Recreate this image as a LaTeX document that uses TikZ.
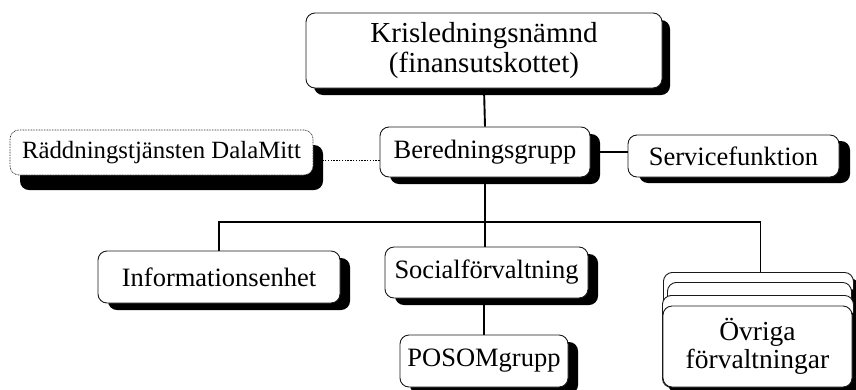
\documentclass[tikz,border=0pt]{standalone}
\usepackage{fontspec}
\setmainfont{Liberation Serif}
\usetikzlibrary{shadows,backgrounds}
\begin{document}
\begin{tikzpicture}[x=1pt,y=-1pt,
  box/.style={draw=black!90, line width=0.9pt, rounded corners=9pt, fill=white,
    align=center, inner sep=0pt, font=\fontsize{26.5}{28}\selectfont},
  sh/.style 2 args={drop shadow={shadow xshift=#1pt, shadow yshift=-#2pt, fill=black, opacity=1}},
  conn/.style={line width=1.9pt, black},
  dotconn/.style={line width=1.3pt, black, dash pattern=on 1.3pt off 1.5pt}
]
\useasboundingbox (0,0) rectangle (856,389);
\clip (0,0) rectangle (856,389);

\node[box, sh={8}{7}, minimum width=356pt, minimum height=75pt,
  font=\fontsize{29}{30}\selectfont] (top) at (484,50.5) {Krisledningsnämnd\\(finansutskottet)};
\node[box, sh={10}{7}, minimum width=210pt, minimum height=50pt] (bered) at (485,152) {Beredningsgrupp};
\node[box, sh={11}{6}, minimum width=211pt, minimum height=42pt] (serv) at (733.5,156) {Servicefunktion};
\node[box, sh={10}{15}, draw=black!85, line width=0.7pt, dash pattern=on 0.8pt off 0.8pt,
  minimum width=303pt, minimum height=45pt, font=\fontsize{24.8}{28}\selectfont] (radd) at (161.5,152.5) {Räddningstjänsten DalaMitt};
\node[box, sh={10}{7}, minimum width=242pt, minimum height=52pt] (info) at (219,277) {Informationsenhet};
\node[box, sh={10}{7}, minimum width=203pt, minimum height=51pt] (social) at (486.5,272.5) {Socialförvaltning};
\node[box, sh={10}{7}, minimum width=168pt, minimum height=52pt] (posom) at (484,361) {POSOMgrupp};

\node[box, sh={6}{6}, minimum width=190pt, minimum height=115pt, anchor=north west] (ov1) at (663,272) {};
\node[box, sh={6}{6}, minimum width=184pt, minimum height=105pt, anchor=north west] (ov2) at (667,282) {};
\node[box, sh={6}{6}, minimum width=191pt, minimum height=92pt, anchor=north west] (ov3) at (662,295) {};
\node[box, sh={6}{6}, minimum width=189pt, minimum height=81pt, font=\fontsize{27.5}{28}\selectfont] (ovr) at (757.5,346.5) {Övriga\\förvaltningar};

\coordinate (bus) at (485,222);
\begin{scope}[on background layer]
  \draw[conn] (top.south) -- (bered.north);
  \draw[conn] (bered.east) -- (bered.east -| serv.west);
  \draw[dotconn] ([yshift=-8.5pt]bered.west) -- ([yshift=-8.5pt]bered.west -| radd.east);
  \draw[conn] (bered.south) -- (bered.south |- social.north);
  \draw[conn] (info.north) |- (bus) -| ([xshift=2pt]ov1.north);
  \draw[conn] (social.south) -- (social.south -| posom.north) -- (posom.north);
\end{scope}
\end{tikzpicture}
\end{document}
